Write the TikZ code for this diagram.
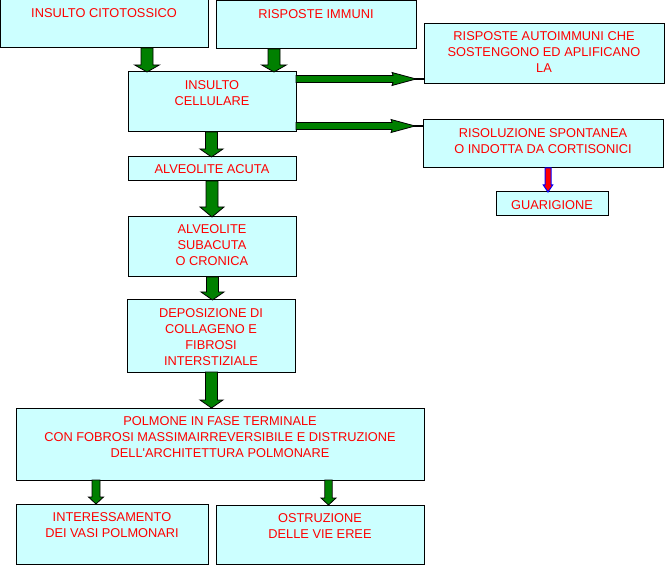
\documentclass[tikz,border=0pt]{standalone}
\usepackage{fontspec}
\setmainfont{Liberation Sans}
\usetikzlibrary{calc}
\definecolor{boxcyan}{RGB}{204,255,255}
\definecolor{arrgreen}{RGB}{0,128,0}
\tikzset{
 box/.style={draw=black, line width=1pt, fill=boxcyan, inner sep=0pt, outer sep=0pt},
 txt/.style={text=red, inner sep=0pt, align=center, font=\fontsize{12.8}{16}\selectfont, anchor=north},
 garrow/.style={fill=arrgreen, draw=black, line width=0.8pt, line join=miter},
 rarrow/.style={fill=red, draw=blue, line width=1pt, line join=miter},
}
% vertical block arrow: #1 start, #2 end (tip), #3 shaft half width, #4 head half width, #5 head length, #6 style
\newcommand{\vblk}[6]{%
  \filldraw[#6] ($(#1)+(-#3,0)$) -- ($(#2)+(-#3,#5)$) -- ($(#2)+(-#4,#5)$) -- (#2)
    -- ($(#2)+(#4,#5)$) -- ($(#2)+(#3,#5)$) -- ($(#1)+(#3,0)$) -- cycle;}
% horizontal block arrow: #1 start, #2 end
\newcommand{\hblk}[2]{%
  \draw[black, line width=1.2pt] ($(#2)+(-9,0)$) -- (#2);
  \filldraw[garrow] ($(#1)+(0,3.5)$) -- ($(#2)+(-31,3.5)$) -- ($(#2)+(-32,6.5)$) -- ($(#2)+(-8,0)$)
    -- ($(#2)+(-32,-6.5)$) -- ($(#2)+(-31,-3.5)$) -- ($(#1)+(0,-3.5)$) -- cycle;}
\begin{document}
\begin{tikzpicture}[x=1pt,y=1pt]
\useasboundingbox (0,0) rectangle (666,568);
% boxes
\node[box, minimum width=208pt, minimum height=48pt] (b1) at (104,544) {};
\node[box, minimum width=200pt, minimum height=48pt] (b2) at (316,543) {};
\node[box, minimum width=168pt, minimum height=60pt] (b3) at (212,466) {};
\node[box, minimum width=168pt, minimum height=24pt] (b4) at (212,399) {};
\node[box, minimum width=168pt, minimum height=60pt] (b5) at (212,321) {};
\node[box, minimum width=168pt, minimum height=72pt] (b6) at (211,232) {};
\node[box, minimum width=408pt, minimum height=72pt] (b7) at (220,124) {};
\node[box, minimum width=192pt, minimum height=60pt] (b8) at (112,34) {};
\node[box, minimum width=208pt, minimum height=59pt] (b9) at (320,33.5) {};
\node[box, minimum width=240pt, minimum height=60pt] (b10) at (544,514) {};
\node[box, minimum width=240pt, minimum height=48pt] (b11) at (543,424) {};
\node[box, minimum width=112pt, minimum height=24pt] (b12) at (552,364) {};
% texts
\node[txt] (t1) at ([yshift=-8pt]b1.north) {INSULTO CITOTOSSICO};
\node[txt] (t2) at ([yshift=-8pt]b2.north) {RISPOSTE IMMUNI};
\node[txt] (t3) at ([yshift=-8pt]b3.north) {INSULTO\\CELLULARE};
\node[txt] (t4) at ([yshift=-7pt]b4.north) {ALVEOLITE ACUTA};
\node[txt] (t5) at ([yshift=-7pt]b5.north) {ALVEOLITE\\SUBACUTA\\O CRONICA};
\node[txt] (t6) at ([yshift=-8pt]b6.north) {DEPOSIZIONE DI\\COLLAGENO E\\FIBROSI\\INTERSTIZIALE};
\node[txt] (t7) at ([yshift=-8pt]b7.north) {POLMONE IN FASE TERMINALE\\CON FOBROSI MASSIMAIRREVERSIBILE E DISTRUZIONE\\DELL\textquotesingle ARCHITETTURA POLMONARE};
\node[txt] (t8) at ([yshift=-8pt]b8.north) {INTERESSAMENTO\\DEI VASI POLMONARI};
\node[txt] (t9) at ([yshift=-8pt]b9.north) {OSTRUZIONE\\DELLE VIE EREE};
\node[txt] (t10) at ([yshift=-7pt]b10.north) {RISPOSTE AUTOIMMUNI CHE\\SOSTENGONO ED APLIFICANO\\LA};
\node[txt] (t11) at ([yshift=-8pt]b11.north) {RISOLUZIONE SPONTANEA\\O INDOTTA DA CORTISONICI};
\node[txt] (t12) at ([yshift=-8pt]b12.north) {GUARIGIONE};
% arrows
\vblk{147,0 |- b1.south}{147,0 |- b3.north}{6}{12.3}{7}{garrow}
\vblk{274,0 |- b2.south}{274,0 |- b3.north}{6}{12.3}{7}{garrow}
\vblk{211.5,0 |- b3.south}{211.5,0 |- b4.north}{6}{11.5}{8}{garrow}
\vblk{212,0 |- b4.south}{212,0 |- b5.north}{6}{12}{10}{garrow}
\vblk{212.5,0 |- b5.south}{212.5,0 |- b6.north}{6}{11.5}{8}{garrow}
\vblk{211.5,0 |- b6.south}{211.5,0 |- b7.north}{6}{11.5}{8}{garrow}
\vblk{96,0 |- b7.south}{96,0 |- b8.north}{4}{7.5}{7}{garrow}
\vblk{328.5,0 |- b7.south}{328.5,0 |- b9.north}{3.7}{7.5}{7}{garrow}
\hblk{b3.east |- 0,489}{b10.west |- 0,489}
\hblk{b3.east |- 0,442}{b11.west |- 0,442}
\vblk{548,0 |- b11.south}{548,0 |- b12.north}{3}{4.7}{7}{rarrow}
\end{tikzpicture}
\end{document}
